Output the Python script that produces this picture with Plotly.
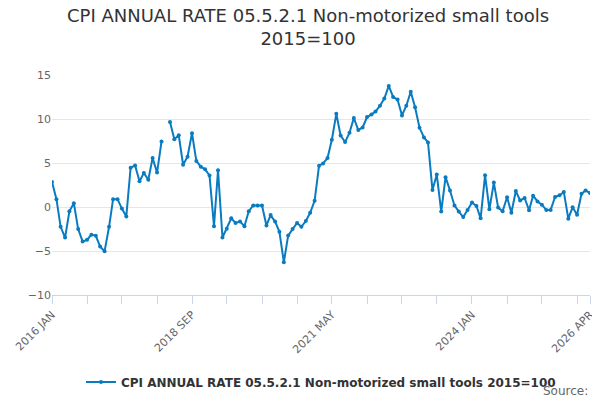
import pandas as pd
import plotly.graph_objects as go

# Monthly values, Jan 2016 .. Apr 2026 (Mar 2018 missing)
values = [
    2.84, 0.89, -2.25, -3.47, -0.48, 0.44, -2.51, -3.91, -3.73, -3.14, -3.28, -4.5,
    -5.02, -2.25, 0.89, 0.89, -0.18, -1.07, 4.46, 4.72, 2.92, 3.87, 3.1, 5.57,
    3.91, 7.45, None, 9.67, 7.71, 8.15, 4.8, 5.72, 8.38, 5.24, 4.58, 4.28,
    3.58, -2.18, 4.17, -3.47, -2.47, -1.29, -1.81, -1.66, -2.18, -0.48, 0.18, 0.18,
    0.18, -2.1, -0.92, -1.66, -2.8, -6.27, -3.25, -2.51, -1.81, -2.25, -1.59, -0.66,
    0.7, 4.69, 4.94, 5.57, 7.64, 10.59, 8.12, 7.38, 8.45, 10.11, 8.75, 9.04,
    10.22, 10.52, 10.85, 11.51, 12.32, 13.76, 12.51, 12.21, 10.41, 11.51, 13.1, 11.33,
    9.0, 7.9, 7.34, 1.92, 3.69, -0.52, 3.39, 1.88, 0.18, -0.52, -1.14, -0.33,
    0.52, 0.11, -1.29, 3.62, -0.26, 2.77, -0.07, -0.48, 1.11, -0.66, 1.81, 0.74,
    1.03, -0.37, 1.29, 0.63, 0.26, -0.33, -0.33, 1.14, 1.33, 1.7, -1.33, -0.04,
    -0.89, 1.51, 1.88, 1.59,
]
dates = pd.date_range("2016-01-01", periods=len(values), freq="MS")

tick_dates = list(dates[::8]) + [dates[-1]]
label_dates = {"2016-01": "2016 JAN", "2018-09": "2018 SEP", "2021-05": "2021 MAY",
               "2024-01": "2024 JAN", "2026-04": "2026 APR"}
tick_text = [label_dates.get(d.strftime("%Y-%m"), "") for d in tick_dates]

name = "CPI ANNUAL RATE 05.5.2.1 Non-motorized small tools 2015=100"

fig = go.Figure()
fig.add_trace(go.Scatter(x=dates, y=values, mode="lines+markers", name=name,
                         line=dict(color="#0a7bc1", width=2),
                         marker=dict(size=4, color="#0a7bc1"), connectgaps=False))

fig.update_layout(
    width=600, height=400,
    title=dict(text="CPI ANNUAL RATE 05.5.2.1 Non-motorized small tools<br>2015=100",
               x=0.5, xanchor="center", y=0.965, font=dict(size=18, color="#333")),
    font=dict(family="DejaVu Sans", color="#555"),
    plot_bgcolor="white", paper_bgcolor="white",
    margin=dict(l=44, r=18, t=67, b=107),
    showlegend=True,
    legend=dict(orientation="h", x=0.5, xanchor="center", y=-0.33, yanchor="top",
                font=dict(size=12, color="#333", weight="bold")),
    xaxis=dict(tickvals=tick_dates, ticktext=tick_text, tickangle=-45,
               ticks="outside", ticklen=8, tickcolor="#ccd6eb", automargin=False,
               showline=True, linecolor="#ccd6eb", showgrid=False,
               range=[dates[0], dates[-1]], tickfont=dict(size=11, color="#666")),
    yaxis=dict(range=[-10, 15], tickvals=[-10, -5, 0, 5, 10, 15], gridcolor="#e6e6e6",
               zeroline=False, automargin=False, tickfont=dict(size=11, color="#666")),
    annotations=[dict(text="Source:", x=1, xref="paper", xanchor="right",
                      y=0, yref="paper", yanchor="bottom", yshift=-105,
                      showarrow=False, font=dict(size=12, color="#666"))],
)

fig.write_html("out.html")
